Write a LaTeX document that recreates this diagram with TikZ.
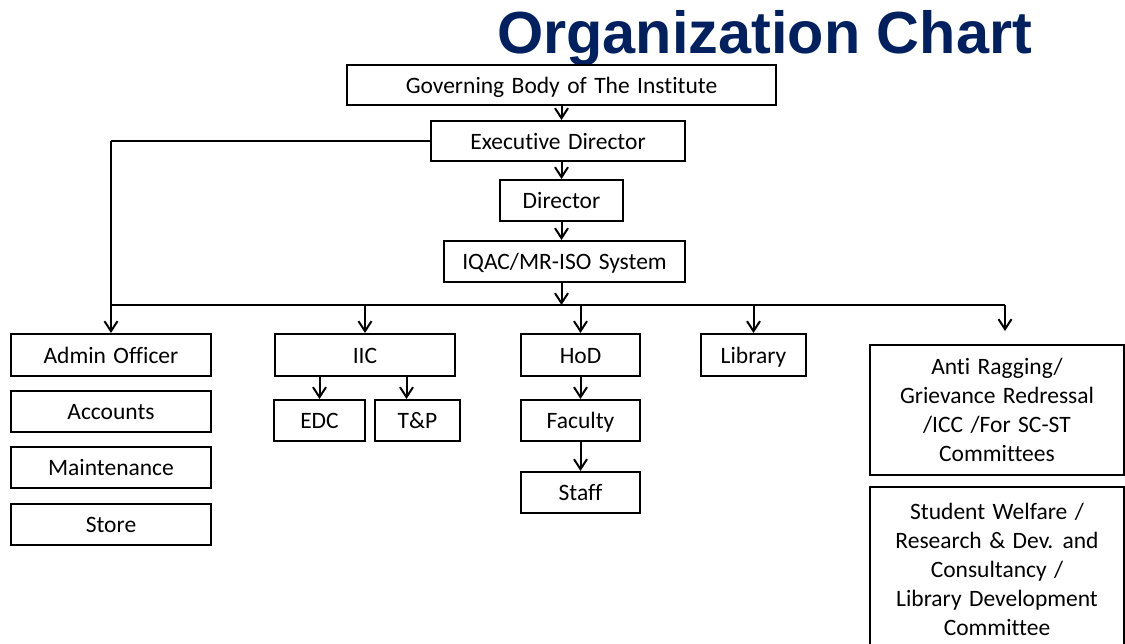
\documentclass[tikz,border=0pt]{standalone}
\usepackage{fontspec}
\setmainfont{Carlito}[Ligatures=NoCommon, WordSpace={1.4}]
\newfontfamily\titlefont{Liberation Sans}
\usepackage{xcolor}
\usepackage{tikz}
\usetikzlibrary{arrows.meta}

\definecolor{chartblue}{RGB}{0,32,96}

\tikzset{
	box/.style={draw, line width=2pt, inner sep=0pt, align=center,
		text height=19pt, text depth=3pt,
		font=\fontsize{23.5}{29}\selectfont},
	tallbox/.style={box, text height=, text depth=},
}

\begin{document}
\begin{tikzpicture}[x=1pt,y=-1pt,line width=2pt,>={Straight Barb[length=10pt,width=13pt]}]
		\useasboundingbox (0,0) rectangle (1125,643);
		\node[anchor=base west, font=\titlefont\bfseries\fontsize{59.4}{60}\selectfont, text=chartblue] (title) at (493,53) {Organization Chart};
		%
		\node[box, minimum width=429, minimum height=40] (gov) at (561.5,85) {Governing Body of The Institute};
		\node[box, minimum width=254, minimum height=40] (exec) at (558,141) {Executive Director};
		\node[box, minimum width=123, minimum height=41] (dir) at (561.5,200.5) {Director};
		\node[box, minimum width=241, minimum height=41] (iqac) at (564.5,261.5) {IQAC/MR-ISO System};
		% left column
		\node[box, minimum width=200, minimum height=42] (admin) at (111,355) {Admin Officer};
		\node[box, minimum width=200, minimum height=41] (accounts) at (111,411.5) {Accounts};
		\node[box, minimum width=200, minimum height=41] (maint) at (111,467.5) {Maintenance};
		\node[box, minimum width=200, minimum height=41] (store) at (111,524.5) {Store};
		% IIC
		\node[box, minimum width=180, minimum height=42] (iic) at (365,355) {IIC};
		\node[box, minimum width=91, minimum height=41] (edc) at (319.5,420.5) {EDC};
		\node[box, minimum width=85, minimum height=41] (tp) at (417.5,420.5) {T\&P};
		% HoD
		\node[box, minimum width=119, minimum height=42] (hod) at (580.5,355) {HoD};
		\node[box, minimum width=119, minimum height=41] (faculty) at (580.5,420.5) {Faculty};
		\node[box, minimum width=119, minimum height=41] (staff) at (580.5,492.5) {Staff};
		\node[box, minimum width=105, minimum height=42] (library) at (753.5,355) {Library};
		% committees
		\node[tallbox, minimum width=254, minimum height=130] (antirag) at (997,410) {Anti Ragging/\\Grievance Redressal\\/ICC /For SC-ST\\Committees};
		\node[tallbox, minimum width=254, minimum height=166, text depth=2pt] (welfare) at (997,570) {Student Welfare /\\Research \& Dev. and\\Consultancy /\\Library Development\\Committee};
		%
		\coordinate (bus) at (561.5,305);
		\coordinate (busR) at (1005,305);
		%
		\path[->]
		% top spine
		(gov.south) edge (gov.south |- exec.north)
		(gov.south |- exec.south) edge (gov.south |- dir.north)
		(dir.south) edge (dir.south |- iqac.north)
		(dir.south |- iqac.south) edge (bus)
		% from the bus
		(exec.west) edge[-] (admin.north |- exec.west)
		(admin.north |- exec.west) edge (admin.north)
		(admin.north |- bus) edge[-] (busR)
		(iic.north |- bus) edge (iic.north)
		(hod.north |- bus) edge (hod.north)
		(library.north |- bus) edge (library.north)
		(busR) edge[shorten >=13pt] (busR |- antirag.north)
		% below
		(edc.north |- iic.south) edge (edc.north)
		([xshift=-11]tp.north |- iic.south) edge ([xshift=-11]tp.north)
		(hod.south) edge (faculty.north)
		(faculty.south) edge (staff.north);
	\end{tikzpicture}
\end{document}
